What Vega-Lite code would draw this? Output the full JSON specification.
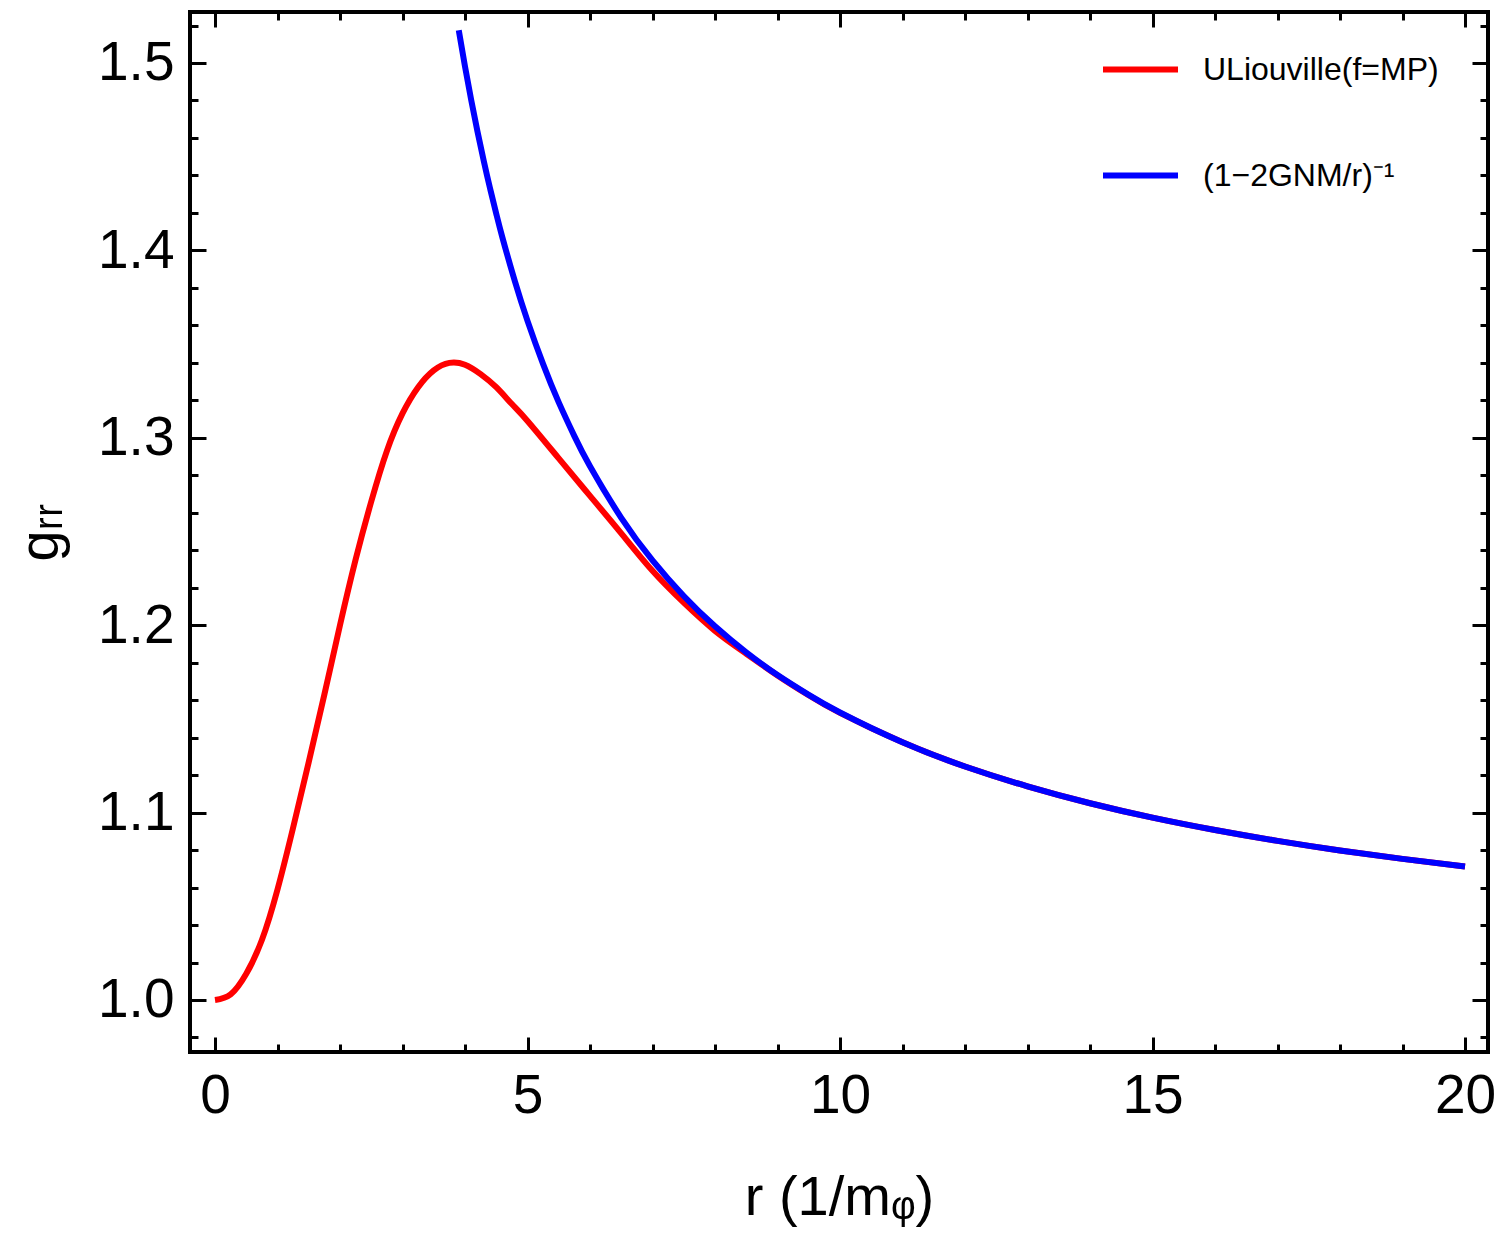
{
  "$schema": "https://vega.github.io/schema/vega-lite/v6.json",
  "autosize": {"type": "none"},
  "width": 1298,
  "height": 1040,
  "padding": {"left": 190, "top": 12, "right": 13, "bottom": 188},
  "background": "white",
  "config": {
    "view": {"stroke": "black", "strokeWidth": 4},
    "font": "Liberation Sans",
    "axis": {
      "domain": false,
      "grid": false,
      "tickColor": "black",
      "tickWidth": 3,
      "labelFont": "Liberation Sans",
      "labelFontSize": 55,
      "labelColor": "black",
      "labelOverlap": false,
      "labelFlush": false,
      "labelBound": false,
      "titleFont": "Liberation Sans",
      "titleFontSize": 56,
      "titleFontWeight": "normal",
      "titleColor": "black"
    },
    "legend": {
      "labelFont": "Liberation Sans",
      "labelFontSize": 32,
      "labelColor": "black",
      "labelLimit": 500
    }
  },
  "datasets": {
    "curves": [
      {"series": "ULiouville(f=MP)", "r": 0, "g": 1.000},
      {"series": "ULiouville(f=MP)", "r": 0.25, "g": 1.003},
      {"series": "ULiouville(f=MP)", "r": 0.5, "g": 1.014},
      {"series": "ULiouville(f=MP)", "r": 0.75, "g": 1.032},
      {"series": "ULiouville(f=MP)", "r": 1.0, "g": 1.059},
      {"series": "ULiouville(f=MP)", "r": 1.25, "g": 1.092},
      {"series": "ULiouville(f=MP)", "r": 1.5, "g": 1.127},
      {"series": "ULiouville(f=MP)", "r": 1.75, "g": 1.163},
      {"series": "ULiouville(f=MP)", "r": 2.0, "g": 1.200},
      {"series": "ULiouville(f=MP)", "r": 2.25, "g": 1.235},
      {"series": "ULiouville(f=MP)", "r": 2.5, "g": 1.266},
      {"series": "ULiouville(f=MP)", "r": 2.75, "g": 1.293},
      {"series": "ULiouville(f=MP)", "r": 3.0, "g": 1.313},
      {"series": "ULiouville(f=MP)", "r": 3.25, "g": 1.327},
      {"series": "ULiouville(f=MP)", "r": 3.5, "g": 1.336},
      {"series": "ULiouville(f=MP)", "r": 3.75, "g": 1.340},
      {"series": "ULiouville(f=MP)", "r": 4.0, "g": 1.339},
      {"series": "ULiouville(f=MP)", "r": 4.25, "g": 1.334},
      {"series": "ULiouville(f=MP)", "r": 4.5, "g": 1.327},
      {"series": "ULiouville(f=MP)", "r": 4.75, "g": 1.318},
      {"series": "ULiouville(f=MP)", "r": 5.0, "g": 1.309},
      {"series": "ULiouville(f=MP)", "r": 5.5, "g": 1.289},
      {"series": "ULiouville(f=MP)", "r": 6.0, "g": 1.269},
      {"series": "ULiouville(f=MP)", "r": 6.5, "g": 1.249},
      {"series": "ULiouville(f=MP)", "r": 7.0, "g": 1.229},
      {"series": "ULiouville(f=MP)", "r": 7.5, "g": 1.212},
      {"series": "ULiouville(f=MP)", "r": 8.0, "g": 1.197},
      {"series": "ULiouville(f=MP)", "r": 8.5, "g": 1.1848},
      {"series": "ULiouville(f=MP)", "r": 9.0, "g": 1.1732},
      {"series": "ULiouville(f=MP)", "r": 9.5, "g": 1.1626},
      {"series": "ULiouville(f=MP)", "r": 10, "g": 1.1532},
      {"series": "ULiouville(f=MP)", "r": 11, "g": 1.1375},
      {"series": "ULiouville(f=MP)", "r": 12, "g": 1.1246},
      {"series": "ULiouville(f=MP)", "r": 13, "g": 1.1140},
      {"series": "ULiouville(f=MP)", "r": 14, "g": 1.1050},
      {"series": "ULiouville(f=MP)", "r": 15, "g": 1.0973},
      {"series": "ULiouville(f=MP)", "r": 16, "g": 1.0907},
      {"series": "ULiouville(f=MP)", "r": 17, "g": 1.0849},
      {"series": "ULiouville(f=MP)", "r": 18, "g": 1.0798},
      {"series": "ULiouville(f=MP)", "r": 19, "g": 1.0753},
      {"series": "ULiouville(f=MP)", "r": 20, "g": 1.0712},
      {"series": "(1−2GNM/r)⁻¹", "r": 3.9, "g": 1.5175},
      {"series": "(1−2GNM/r)⁻¹", "r": 4.0, "g": 1.4981},
      {"series": "(1−2GNM/r)⁻¹", "r": 4.1, "g": 1.4801},
      {"series": "(1−2GNM/r)⁻¹", "r": 4.2, "g": 1.4634},
      {"series": "(1−2GNM/r)⁻¹", "r": 4.3, "g": 1.4478},
      {"series": "(1−2GNM/r)⁻¹", "r": 4.4, "g": 1.4332},
      {"series": "(1−2GNM/r)⁻¹", "r": 4.5, "g": 1.4196},
      {"series": "(1−2GNM/r)⁻¹", "r": 4.6, "g": 1.4067},
      {"series": "(1−2GNM/r)⁻¹", "r": 4.8, "g": 1.3833},
      {"series": "(1−2GNM/r)⁻¹", "r": 5.0, "g": 1.3624},
      {"series": "(1−2GNM/r)⁻¹", "r": 5.25, "g": 1.3393},
      {"series": "(1−2GNM/r)⁻¹", "r": 5.5, "g": 1.3189},
      {"series": "(1−2GNM/r)⁻¹", "r": 5.75, "g": 1.3009},
      {"series": "(1−2GNM/r)⁻¹", "r": 6.0, "g": 1.2848},
      {"series": "(1−2GNM/r)⁻¹", "r": 6.5, "g": 1.2573},
      {"series": "(1−2GNM/r)⁻¹", "r": 7.0, "g": 1.2346},
      {"series": "(1−2GNM/r)⁻¹", "r": 7.5, "g": 1.2156},
      {"series": "(1−2GNM/r)⁻¹", "r": 8.0, "g": 1.1994},
      {"series": "(1−2GNM/r)⁻¹", "r": 8.5, "g": 1.1855},
      {"series": "(1−2GNM/r)⁻¹", "r": 9.0, "g": 1.1734},
      {"series": "(1−2GNM/r)⁻¹", "r": 9.5, "g": 1.1628},
      {"series": "(1−2GNM/r)⁻¹", "r": 10, "g": 1.1534},
      {"series": "(1−2GNM/r)⁻¹", "r": 11, "g": 1.1375},
      {"series": "(1−2GNM/r)⁻¹", "r": 12, "g": 1.1246},
      {"series": "(1−2GNM/r)⁻¹", "r": 13, "g": 1.1140},
      {"series": "(1−2GNM/r)⁻¹", "r": 14, "g": 1.1050},
      {"series": "(1−2GNM/r)⁻¹", "r": 15, "g": 1.0973},
      {"series": "(1−2GNM/r)⁻¹", "r": 16, "g": 1.0907},
      {"series": "(1−2GNM/r)⁻¹", "r": 17, "g": 1.0849},
      {"series": "(1−2GNM/r)⁻¹", "r": 18, "g": 1.0798},
      {"series": "(1−2GNM/r)⁻¹", "r": 19, "g": 1.0753},
      {"series": "(1−2GNM/r)⁻¹", "r": 20, "g": 1.0712}
    ]
  },
  "resolve": {"axis": {"x": "independent", "y": "independent"}},
  "layer": [
    {
      "data": {"name": "curves"},
      "transform": [{"filter": "datum.series === 'ULiouville(f=MP)'"}],
      "mark": {"type": "line", "strokeWidth": 6, "interpolate": "natural", "clip": true},
      "encoding": {
        "x": {
          "field": "r", "type": "quantitative",
          "scale": {"domain": [-0.4, 20.368], "nice": false, "zero": false},
          "axis": {
            "orient": "bottom",
            "title": "r (1/mᵩ)",
            "titlePadding": 40,
            "values": [0,1,2,3,4,5,6,7,8,9,10,11,12,13,14,15,16,17,18,19,20],
            "tickSize": {"condition": {"test": "datum.value % 5 === 0", "value": -15}, "value": -8},
            "labelExpr": "datum.value % 5 === 0 ? datum.label : ''",
            "labelPadding": 32
          }
        },
        "y": {
          "field": "g", "type": "quantitative",
          "scale": {"domain": [0.97225, 1.52721], "nice": false, "zero": false},
          "axis": {
            "orient": "left",
            "title": "gᵣᵣ",
            "titlePadding": 28,
            "values": [0.98,1.0,1.02,1.04,1.06,1.08,1.1,1.12,1.14,1.16,1.18,1.2,1.22,1.24,1.26,1.28,1.3,1.32,1.34,1.36,1.38,1.4,1.42,1.44,1.46,1.48,1.5,1.52],
            "tickSize": {"condition": {"test": "abs(datum.value * 10 - round(datum.value * 10)) < 1e-6", "value": -16}, "value": -8},
            "labelExpr": "abs(datum.value * 10 - round(datum.value * 10)) < 1e-6 ? format(datum.value, '.1f') : ''",
            "labelPadding": 32
          }
        },
        "color": {
          "field": "series", "type": "nominal",
          "scale": {"domain": ["ULiouville(f=MP)", "(1−2GNM/r)⁻¹"], "range": ["#ff0000", "#0000ff"]},
          "legend": {
            "title": null,
            "orient": "none",
            "legendX": 910,
            "legendY": 17,
            "symbolType": "stroke",
            "symbolStrokeWidth": 6,
            "symbolSize": 5625,
            "labelOffset": 22,
            "rowPadding": 49
          }
        }
      }
    },
    {
      "data": {"name": "curves"},
      "transform": [{"filter": "datum.series === '(1−2GNM/r)⁻¹'"}],
      "mark": {"type": "line", "strokeWidth": 6, "interpolate": "natural", "clip": true},
      "encoding": {
        "x": {
          "field": "r", "type": "quantitative",
          "scale": {"domain": [-0.4, 20.368], "nice": false, "zero": false},
          "axis": {
            "orient": "top",
            "title": null,
            "labels": false,
            "values": [0,1,2,3,4,5,6,7,8,9,10,11,12,13,14,15,16,17,18,19,20],
            "tickSize": {"condition": {"test": "datum.value % 5 === 0", "value": -15}, "value": -8}
          }
        },
        "y": {
          "field": "g", "type": "quantitative",
          "scale": {"domain": [0.97225, 1.52721], "nice": false, "zero": false},
          "axis": {
            "orient": "right",
            "title": null,
            "labels": false,
            "values": [0.98,1.0,1.02,1.04,1.06,1.08,1.1,1.12,1.14,1.16,1.18,1.2,1.22,1.24,1.26,1.28,1.3,1.32,1.34,1.36,1.38,1.4,1.42,1.44,1.46,1.48,1.5,1.52],
            "tickSize": {"condition": {"test": "abs(datum.value * 10 - round(datum.value * 10)) < 1e-6", "value": -16}, "value": -8}
          }
        },
        "color": {
          "field": "series", "type": "nominal",
          "scale": {"domain": ["ULiouville(f=MP)", "(1−2GNM/r)⁻¹"], "range": ["#ff0000", "#0000ff"]}
        }
      }
    }
  ]
}
